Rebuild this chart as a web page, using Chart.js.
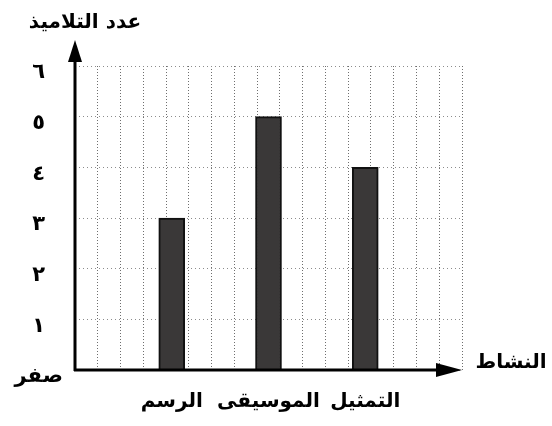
<!DOCTYPE html>
<html lang="ar">
<head>
<meta charset="utf-8">
<script src="https://cdn.jsdelivr.net/npm/chart.js@4.4.1/dist/chart.umd.min.js"></script>
<style>
  html, body { margin: 0; padding: 0; background: #fff; }
  #wrap { width: 552px; height: 426px; }
</style>
</head>
<body>
<div id="wrap"><canvas id="activityChart"></canvas></div>
<script>
const categories = ['الرسم', 'الموسيقى', 'التمثيل'];
const pupilCounts = [3, 5, 4];
const yTickLabels = ['صفر', '١', '٢', '٣', '٤', '٥', '٦'];
const yTitle = 'عدد التلاميذ';
const xTitle = 'النشاط';

const arabicFont = "'DejaVu Sans', sans-serif";

// empty slots at both ends so the bars sit on the squared paper like the book
const slotLabels = [''].concat(categories, ['']);
const slotValues = [null].concat(pupilCounts, [null]);

const axesArrows = {
  id: 'axesArrows',
  afterDraw(chart) {
    const ctx = chart.ctx;
    const area = chart.chartArea;
    const x0 = chart.scales.y.right;
    const y0 = chart.scales.y.getPixelForValue(0);
    const topTip = area.top - 26;
    const rightTip = area.right;

    ctx.save();
    ctx.strokeStyle = '#000';
    ctx.fillStyle = '#000';
    ctx.lineWidth = 3;
    ctx.beginPath();
    ctx.moveTo(x0, y0 + 1);
    ctx.lineTo(x0, topTip + 10);
    ctx.moveTo(x0 - 1, y0);
    ctx.lineTo(rightTip - 10, y0);
    ctx.stroke();

    ctx.beginPath();
    ctx.moveTo(x0, topTip);
    ctx.lineTo(x0 - 7, topTip + 22);
    ctx.lineTo(x0 + 7, topTip + 22);
    ctx.closePath();
    ctx.fill();

    ctx.beginPath();
    ctx.moveTo(rightTip, y0);
    ctx.lineTo(rightTip - 26, y0 - 7);
    ctx.lineTo(rightTip - 26, y0 + 7);
    ctx.closePath();
    ctx.fill();

    ctx.font = 'bold 20px ' + arabicFont;
    ctx.textAlign = 'center';
    ctx.textBaseline = 'middle';
    ctx.fillText(yTitle, x0 + 10, area.top - 43);
    ctx.fillText(xTitle, rightTip + 49, y0 - 7);
    ctx.restore();
  }
};

const ctx = document.getElementById('activityChart').getContext('2d');

new Chart(ctx, {
  type: 'bar',
  data: {
    labels: slotLabels,
    datasets: [{
      label: yTitle,
      data: slotValues,
      backgroundColor: '#3a3838',
      borderColor: '#111',
      borderWidth: 2,
      barThickness: 26
    }]
  },
  options: {
    responsive: true,
    maintainAspectRatio: false,
    animation: false,
    layout: { padding: { top: 66, right: 90, left: 0, bottom: 0 } },
    plugins: {
      legend: { display: false },
      tooltip: { enabled: false }
    },
    scales: {
      x: {
        type: 'category',
        offset: false,
        grid: { display: false },
        border: { display: false },
        ticks: {
          color: '#000',
          padding: 12,
          maxRotation: 0,
          autoSkip: false,
          font: { family: arabicFont, size: 20, weight: 'bold' }
        },
        afterFit: scale => { scale.height = 56; }
      },
      xg: {
        type: 'linear',
        position: 'top',
        min: 0,
        max: 16,
        ticks: { display: false, stepSize: 1 },
        border: { display: false, dash: [1, 2] },
        grid: {
          drawTicks: false,
          color: '#6e6e6e',
          lineWidth: 1
        },
        afterFit: scale => { scale.height = 0; }
      },
      y: {
        min: 0,
        max: 6,
        border: { display: false, dash: [1, 3] },
        grid: {
          drawTicks: false,
          color: '#8c8c8c',
          lineWidth: 1
        },
        ticks: {
          stepSize: 1,
          color: '#000',
          padding: 12,
          crossAlign: 'center',
          labelOffset: 7,
          font: { family: arabicFont, size: 21, weight: 'bold' },
          callback: value => yTickLabels[value]
        },
        afterFit: scale => { scale.width = 75; }
      }
    }
  },
  plugins: [axesArrows]
});
</script>
</body>
</html>
